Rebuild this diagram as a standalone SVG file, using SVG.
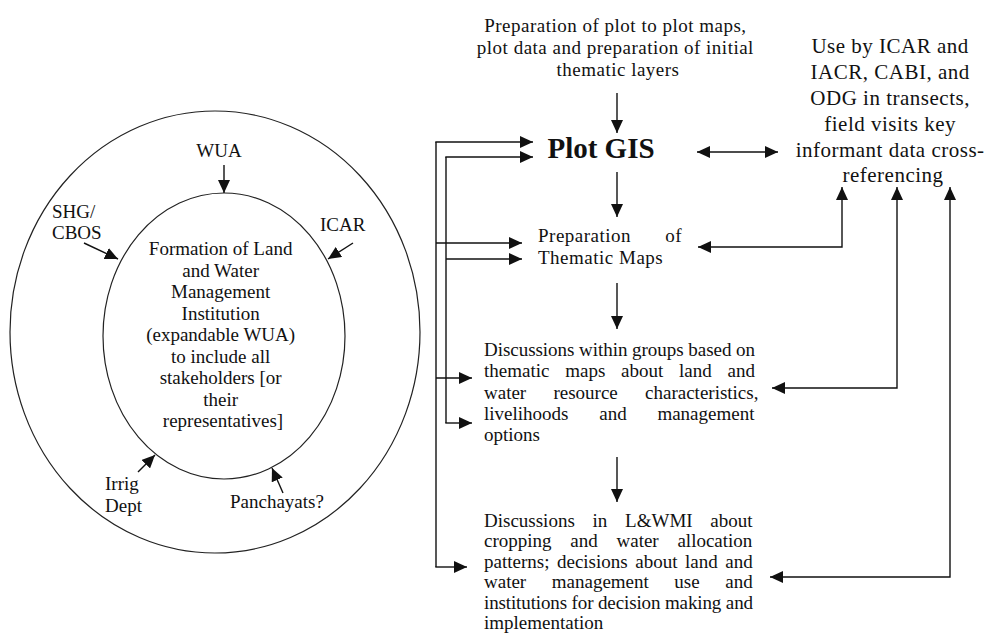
<svg xmlns="http://www.w3.org/2000/svg" width="990" height="634" viewBox="0 0 990 634">
<defs>
<marker id="ah" markerUnits="userSpaceOnUse" markerWidth="14" markerHeight="12" refX="13" refY="6" orient="auto-start-reverse">
<path d="M0,0 L13,6 L0,12 Z" fill="#111"/>
</marker>
<style>
.t{font-family:"Liberation Serif","Times New Roman",serif;font-size:19px;fill:#111}
.r{letter-spacing:0.5px}
.big{font-size:21px;letter-spacing:0.5px}
.c{text-anchor:middle}
.e{text-anchor:end}
.ring{fill:none;stroke:#222;stroke-width:1.2}
.ln{fill:none;stroke:#111;stroke-width:1.4}
.a{marker-end:url(#ah)}
.aa{marker-start:url(#ah);marker-end:url(#ah)}
</style>
</defs>
<rect width="990" height="634" fill="#fff"/>

<g id="outer-ring"><ellipse class="ring" cx="215" cy="332" rx="205" ry="221"/></g>
<g id="institution">
<ellipse class="ring" cx="224" cy="336" rx="121" ry="143"/>
<text class="t c" x="223">
<tspan x="223" y="255">Formation of Land</tspan>
<tspan x="223" y="276.5">and Water</tspan>
<tspan x="223" y="298">Management</tspan>
<tspan x="223" y="319.5">Institution</tspan>
<tspan x="223" y="341">(expandable WUA)</tspan>
<tspan x="223" y="362.5">to include all</tspan>
<tspan x="223" y="384">stakeholders [or</tspan>
<tspan x="223" y="405.5">their</tspan>
<tspan x="223" y="427">representatives]</tspan>
</text>
</g>
<g id="wua"><text class="t c" x="219" y="157">WUA</text></g>
<g id="shg"><text class="t" x="52" y="218">SHG/</text><text class="t" x="52" y="239">CBOS</text></g>
<g id="icar"><text class="t" x="320" y="231">ICAR</text></g>
<g id="irrig"><text class="t" x="105" y="490">Irrig</text><text class="t" x="105" y="512">Dept</text></g>
<g id="panchayats"><text class="t" x="230" y="508">Panchayats?</text></g>

<g id="prep-plot"><text class="t r c">
<tspan x="618" y="32">Preparation of plot to plot maps,</tspan>
<tspan x="618" y="54">plot data and preparation of initial</tspan>
<tspan x="618" y="76">thematic layers</tspan>
</text></g>
<g id="plot-gis"><text class="t c" x="601" y="158" style="font-size:29px;font-weight:bold">Plot GIS</text></g>
<g id="use-by"><text class="t big c">
<tspan x="893" y="53">Use by ICAR and</tspan>
<tspan x="893" y="79">IACR, CABI, and</tspan>
<tspan x="893" y="105">ODG in transects,</tspan>
<tspan x="893" y="131">field visits key</tspan>
<tspan x="893" y="157">informant data cross-</tspan>
<tspan x="893" y="182">referencing</tspan>
</text></g>
<g id="thematic-maps">
<text class="t r" x="538" y="242">Preparation</text>
<text class="t r e" x="682" y="242">of</text>
<text class="t r" x="538" y="264">Thematic Maps</text>
</g>
<g id="group-discussions">
<text class="t" x="484" y="356" textLength="271" lengthAdjust="spacing">Discussions within groups based on</text>
<text class="t" x="484" y="377.3" style="word-spacing:11px">thematic maps about land and</text>
<text class="t" x="484" y="398.6" style="word-spacing:22.5px">water resource characteristics,</text>
<text class="t" x="484" y="420" style="word-spacing:26px">livelihoods and management</text>
<text class="t" x="484" y="441.3">options</text>
</g>
<g id="lwmi-discussions">
<text class="t" x="484" y="527" style="word-spacing:13px">Discussions in L&amp;WMI about</text>
<text class="t" x="484" y="547.4" style="word-spacing:14px">cropping and water allocation</text>
<text class="t" x="484" y="567.8" style="word-spacing:2.8px">patterns; decisions about land and</text>
<text class="t" x="484" y="588.2" style="word-spacing:20.8px">water management use and</text>
<text class="t" x="484" y="608.6" textLength="269" lengthAdjust="spacing">institutions for decision making and</text>
<text class="t" x="484" y="629">implementation</text>
</g>

<g id="connectors">
<line class="ln a" x1="224" y1="165" x2="224" y2="193"/>
<line class="ln a" x1="84" y1="243" x2="118" y2="259"/>
<line class="ln a" x1="353" y1="243" x2="328" y2="259"/>
<line class="ln a" x1="138" y1="472" x2="155" y2="455"/>
<line class="ln a" x1="283" y1="493" x2="272" y2="468"/>

<line class="ln a" x1="617" y1="93" x2="617" y2="133"/>
<line class="ln a" x1="617" y1="172" x2="617" y2="217"/>
<line class="ln a" x1="617" y1="283" x2="617" y2="329"/>
<line class="ln a" x1="617" y1="457" x2="617" y2="502"/>

<line class="ln" x1="436" y1="142" x2="436" y2="567"/>
<line class="ln a" x1="435.3" y1="142" x2="533" y2="142"/>
<line class="ln a" x1="436" y1="243" x2="522" y2="243"/>
<line class="ln a" x1="436" y1="378" x2="472" y2="378"/>
<line class="ln a" x1="435.3" y1="567" x2="467" y2="567"/>
<line class="ln" x1="446" y1="157" x2="446" y2="423"/>
<line class="ln a" x1="445.3" y1="157" x2="533" y2="157"/>
<line class="ln a" x1="446" y1="259" x2="522" y2="259"/>
<line class="ln a" x1="445.3" y1="423" x2="472" y2="423"/>

<line class="ln aa" x1="697" y1="152" x2="778" y2="152"/>
<path class="ln aa" d="M698,247 H842 V187"/>
<path class="ln aa" d="M772,388 H897 V187"/>
<path class="ln aa" d="M770,577 H950 V187"/>
</g>
</svg>
